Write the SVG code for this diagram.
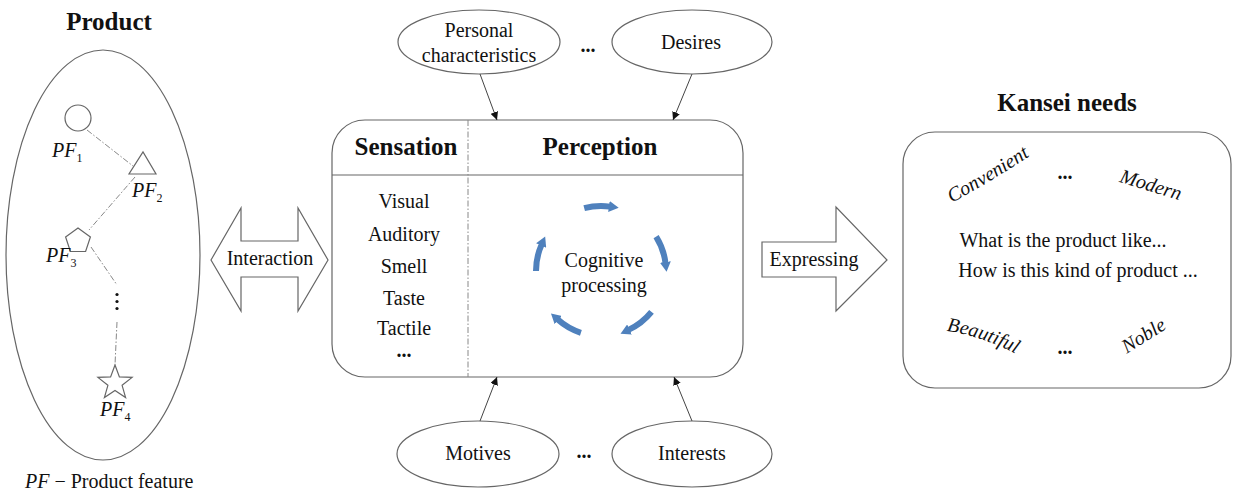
<svg xmlns="http://www.w3.org/2000/svg" width="1234" height="493" viewBox="0 0 1234 493">
<defs>
<style>
.t{font-family:"Liberation Serif","Times New Roman",serif;fill:#111;font-size:20px}
.c{text-anchor:middle}
.b{font-weight:bold;font-size:25px}
.i{font-style:italic}
.sub{font-style:normal;font-size:12px}
.sh{fill:#fff;stroke:#666;stroke-width:1.2}
.ln{fill:none;stroke:#666;stroke-width:1.2}
.dd{fill:none;stroke:#888;stroke-width:1;stroke-dasharray:6 2 1.5 2}
.ar{fill:none;stroke:#444;stroke-width:1}
.bl{fill:none;stroke:#4F81BD;stroke-width:6}
</style>
<marker id="ah" viewBox="0 0 10 10" refX="10" refY="5" markerWidth="8" markerHeight="8" markerUnits="userSpaceOnUse" orient="auto"><path d="M0,0 L10,5 L0,10 Z" fill="#111"/></marker>
<marker id="bh" viewBox="0 0 10 10" refX="1" refY="5" markerWidth="11" markerHeight="11" markerUnits="userSpaceOnUse" orient="auto"><path d="M0,0 L9,5 L0,10 Z" fill="#4F81BD"/></marker>
<path id="pConv" d="M946,206 Q989,183 1036,152"/>
<path id="pBeau" d="M940,330 Q979,334 1022,357"/>
</defs>
<rect width="1234" height="493" fill="#fff"/>

<g id="product">
<text class="t b c" x="109" y="30">Product</text>
<ellipse class="sh" cx="103" cy="255" rx="97" ry="205"/>
<circle class="sh" cx="78" cy="118" r="13"/>
<polygon class="sh" points="129,174 156,174 143,152"/>
<polygon class="sh" points="78,228 90.4,237 85.6,251.5 70.4,251.5 65.6,237"/>
<polygon class="sh" points="115,365 119.4,376.9 132.1,377.4 122.1,385.3 125.6,397.6 115,390.5 104.4,397.6 107.9,385.3 97.9,377.4 110.6,376.9"/>
<text class="t i" x="52" y="157">PF<tspan class="sub" dy="5">1</tspan></text>
<text class="t i" x="132" y="197">PF<tspan class="sub" dy="5">2</tspan></text>
<text class="t i" x="46" y="262">PF<tspan class="sub" dy="5">3</tspan></text>
<text class="t i" x="100" y="416">PF<tspan class="sub" dy="5">4</tspan></text>
<g fill="#111"><circle cx="117" cy="294.5" r="1.6"/><circle cx="117" cy="301.5" r="1.6"/><circle cx="117" cy="308.5" r="1.6"/></g>
<text class="t" x="25" y="488"><tspan class="i">PF</tspan> − Product feature</text>
</g>

<g id="personal">
<ellipse class="sh" cx="479" cy="42" rx="81" ry="32"/>
<text class="t c" x="479" y="37">Personal</text>
<text class="t c" x="479" y="62">characteristics</text>
</g>
<text class="t c" x="588" y="52" font-weight="bold">...</text>
<g id="desires">
<ellipse class="sh" cx="692" cy="42" rx="80" ry="32"/>
<text class="t c" x="691" y="49">Desires</text>
</g>

<g id="motives">
<ellipse class="sh" cx="478" cy="454" rx="81" ry="33"/>
<text class="t c" x="478" y="460">Motives</text>
</g>
<text class="t c" x="584" y="458" font-weight="bold">...</text>
<g id="interests">
<ellipse class="sh" cx="692" cy="454" rx="80" ry="33"/>
<text class="t c" x="692" y="460">Interests</text>
</g>

<g id="process">
<rect class="sh" x="332" y="120" width="411" height="257" rx="33" ry="33"/>
<line class="ln" x1="332" y1="175" x2="743" y2="175"/>
<line class="dd" x1="468" y1="120" x2="468" y2="377"/>
<text class="t b c" x="406" y="155">Sensation</text>
<text class="t b c" x="600" y="155">Perception</text>
<text class="t c" x="404" y="208">Visual</text>
<text class="t c" x="404" y="241">Auditory</text>
<text class="t c" x="404" y="273">Smell</text>
<text class="t c" x="404" y="305">Taste</text>
<text class="t c" x="404" y="335">Tactile</text>
<text class="t c" x="404" y="357" font-weight="bold">...</text>
<text class="t c" x="604" y="267">Cognitive</text>
<text class="t c" x="604" y="292">processing</text>
<g id="cycle">
<path class="bl" d="M584.2,208.2 A65,65 0 0 1 610,206.6" marker-end="url(#bh)"/>
<path class="bl" d="M656.1,236.6 A65,65 0 0 1 665.5,263.1" marker-end="url(#bh)"/>
<path class="bl" d="M651.5,311.9 A65,65 0 0 1 628.5,329.9" marker-end="url(#bh)"/>
<path class="bl" d="M580.9,332.8 A65,65 0 0 1 557.5,319.3" marker-end="url(#bh)"/>
<path class="bl" d="M536,271 A65,65 0 0 1 541.6,244.6" marker-end="url(#bh)"/>
</g>
</g>

<g id="kansei">
<text class="t b c" x="1067" y="111">Kansei needs</text>
<rect class="sh" x="903" y="132" width="328" height="256" rx="32" ry="32"/>
<text class="t i" font-size="21"><textPath href="#pConv" startOffset="50%" text-anchor="middle">Convenient</textPath></text>
<text class="t c" x="1065" y="179" font-weight="bold">...</text>
<text class="t i c" x="1149" y="191" transform="rotate(17 1149 191)">Modern</text>
<text class="t c" x="1063" y="247">What is the product like...</text>
<text class="t c" x="1078" y="277">How is this kind of product ...</text>
<text class="t i" font-size="21"><textPath href="#pBeau" startOffset="50%" text-anchor="middle">Beautiful</textPath></text>
<text class="t c" x="1065" y="354" font-weight="bold">...</text>
<text class="t i c" x="1147" y="341" transform="rotate(-32 1147 341)">Noble</text>
</g>

<g id="connectors">
<line class="dd" x1="87" y1="130" x2="133" y2="166"/>
<line class="dd" x1="135" y1="177" x2="89" y2="230"/>
<line class="dd" x1="91" y1="247" x2="117" y2="285"/>
<line class="dd" x1="117" y1="322" x2="115" y2="365"/>
<polygon class="sh" points="211,260 241,208 241,241 298,241 298,208 328,260 298,311 298,277 241,277 241,311"/>
<text class="t c" x="270" y="265">Interaction</text>
<polygon class="sh" points="762,242 836,242 836,207 887,260 836,311 836,277 762,277"/>
<text class="t c" x="814" y="266">Expressing</text>
<line class="ar" x1="480" y1="74" x2="497" y2="120" marker-end="url(#ah)"/>
<line class="ar" x1="692" y1="74" x2="673" y2="120" marker-end="url(#ah)"/>
<line class="ar" x1="480" y1="421" x2="497" y2="377" marker-end="url(#ah)"/>
<line class="ar" x1="692" y1="421" x2="674" y2="377" marker-end="url(#ah)"/>
</g>
</svg>
